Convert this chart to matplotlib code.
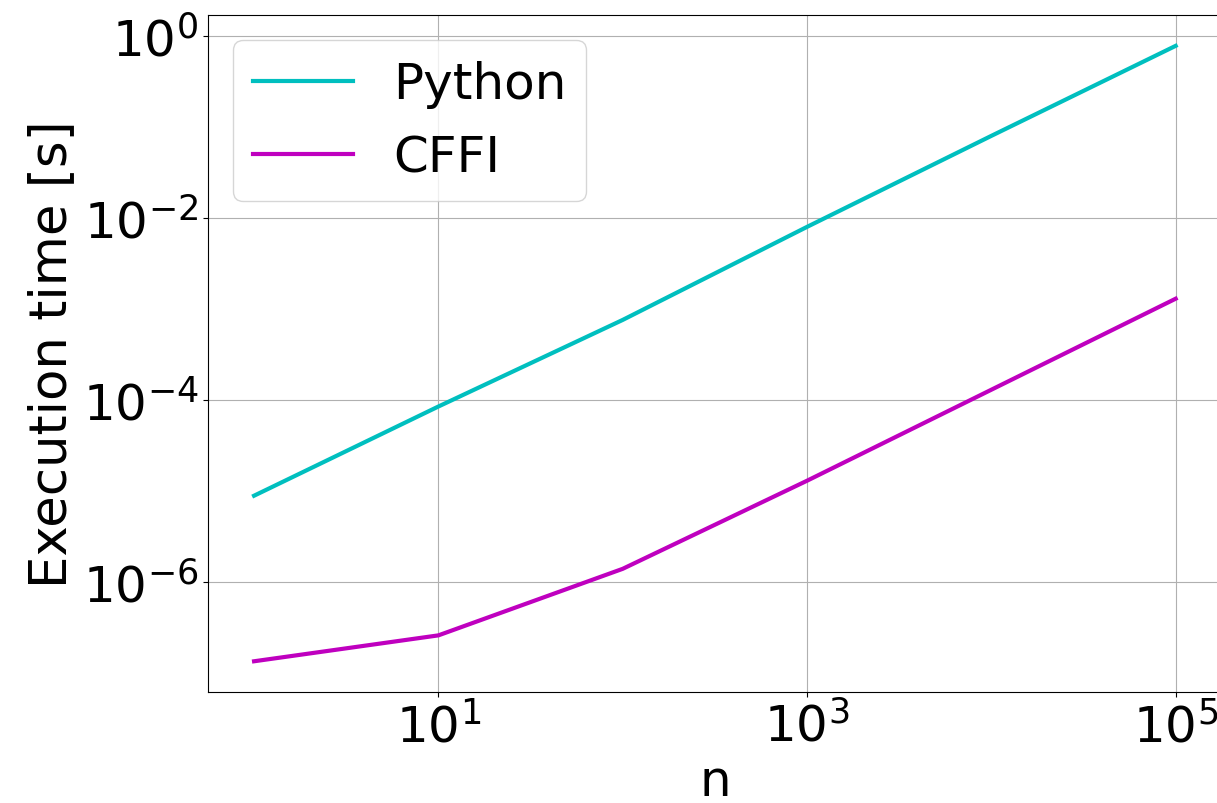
import matplotlib
matplotlib.use("Agg")
import matplotlib.pyplot as plt

# problem sizes and measured run times
n = [1, 10, 100, 1000, 10000, 100000]
t_python = [8.9e-6, 8.5e-5, 7.6e-4, 8.0e-3, 8.0e-2, 0.78]
t_cffi = [1.35e-7, 2.6e-7, 1.4e-6, 1.3e-5, 1.3e-4, 1.3e-3]

plt.rcParams["font.size"] = 36

fig = plt.figure(figsize=(12.17, 8.04), dpi=100)
ax = fig.add_axes([0.1709, 0.138, 0.833, 0.842])

ax.plot(n, t_python, color="c", linewidth=3, label="Python")
ax.plot(n, t_cffi, color="m", linewidth=3, label="CFFI")
ax.set_xscale("log")
ax.set_yscale("log")
ax.set_xticks([10, 1000, 100000])
ax.minorticks_off()
ax.set_xlabel("n")
ax.set_ylabel("Execution time [s]", fontsize=37)
ax.grid(True)
ax.legend(loc="upper left")

fig.savefig("out.png", dpi=100)
